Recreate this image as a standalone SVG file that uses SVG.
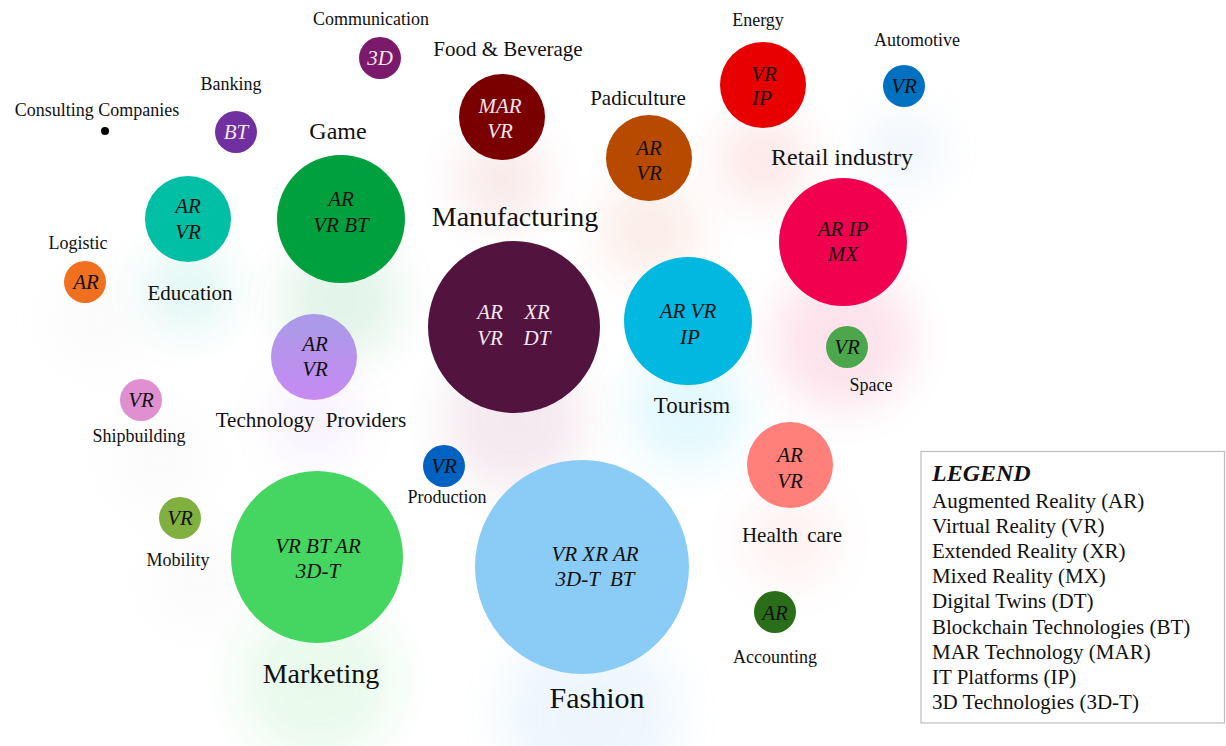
<svg xmlns="http://www.w3.org/2000/svg" width="1226" height="746" viewBox="0 0 1226 746">
<style>
.lbl{font-family:"Liberation Serif","Times New Roman",serif;fill:#111;text-anchor:middle}
.in{font-family:"Liberation Serif","Times New Roman",serif;font-style:italic;font-size:21px;fill:#111;text-anchor:middle}
.w{fill:#f4e6ee}
.s{font-size:18px}
.m{font-size:21px}
.l{font-size:24px}
.xl{font-size:28px}
.halo{opacity:0.11;filter:url(#blur)}
.leg{font-family:"Liberation Serif","Times New Roman",serif;font-size:21px;fill:#111}
</style>
<defs>
<filter id="blur" x="-100%" y="-100%" width="300%" height="300%"><feGaussianBlur stdDeviation="22"/></filter>
<linearGradient id="tp" x1="0" y1="0" x2="0" y2="1"><stop offset="0" stop-color="#A99BE8"/><stop offset="1" stop-color="#C78AF2"/></linearGradient>
</defs>
<rect width="1226" height="746" fill="#fff"/>
<g id="halos">
<circle class="halo" cx="341" cy="300" r="60" fill="#00A040"/>
<circle class="halo" cx="514" cy="420" r="70" fill="#A04070"/>
<circle class="halo" cx="688" cy="410" r="60" fill="#00C8F0"/>
<circle class="halo" cx="317" cy="680" r="80" fill="#44D660"/>
<circle class="halo" cx="590" cy="715" r="90" fill="#6AB8F0"/>
<circle class="halo" cx="843" cy="340" r="70" fill="#F0004F"/>
<circle class="halo" cx="650" cy="230" r="50" fill="#E06030"/>
<circle class="halo" cx="763" cy="160" r="45" fill="#F03030"/>
<circle class="halo" cx="502" cy="180" r="45" fill="#D04040"/>
<circle class="halo" cx="188" cy="290" r="45" fill="#00BFA5"/>
<circle class="halo" cx="314" cy="420" r="45" fill="#C08AF0"/>
<circle class="halo" cx="790" cy="540" r="45" fill="#FF8080"/>
<circle class="halo" cx="904" cy="150" r="40" fill="#80B0E0"/>
<circle class="halo" cx="100" cy="320" r="50" fill="#E0E0E0"/>
<circle class="halo" cx="160" cy="460" r="50" fill="#E0E0E0"/>
<circle class="halo" cx="200" cy="580" r="50" fill="#E0E0E0"/>
</g>
<g id="connectors"></g>
<g id="consulting"><text class="lbl s" x="97" y="116">Consulting Companies</text><circle cx="105" cy="131" r="4" fill="#000"/></g>
<g id="banking"><text class="lbl s" x="231" y="90">Banking</text><circle cx="236" cy="132" r="21" fill="#7030A0"/><text class="in w" x="236" y="139">BT</text></g>
<g id="communication"><text class="lbl s" x="371" y="25">Communication</text><circle cx="380" cy="58" r="21" fill="#7B1A6A"/><text class="in w" x="380" y="65">3D</text></g>
<g id="food"><text class="lbl m" x="508" y="56">Food &amp; Beverage</text><circle cx="502" cy="117" r="43" fill="#7A0000"/><text class="in w" x="500" y="113">MAR</text><text class="in w" x="500" y="138">VR</text></g>
<g id="game"><text class="lbl l" x="338" y="139">Game</text><circle cx="341" cy="219" r="64" fill="#00A03E"/><text class="in" x="341" y="206">AR</text><text class="in" x="341" y="232">VR BT</text></g>
<g id="education"><circle cx="188" cy="219" r="43" fill="#00BFA5"/><text class="in" x="188" y="213">AR</text><text class="in" x="188" y="239">VR</text><text class="lbl m" x="190" y="300">Education</text></g>
<g id="logistic"><text class="lbl s" x="78" y="249">Logistic</text><circle cx="85" cy="282" r="21" fill="#F07020"/><text class="in" x="86" y="289">AR</text></g>
<g id="manufacturing"><text class="lbl xl" x="515" y="226">Manufacturing</text><circle cx="514" cy="327" r="86" fill="#52133E"/><text class="in w" x="490" y="319">AR</text><text class="in w" x="537" y="319">XR</text><text class="in w" x="490" y="345">VR</text><text class="in w" x="537" y="345">DT</text></g>
<g id="padiculture"><text class="lbl m" x="638" y="105">Padiculture</text><circle cx="649" cy="158" r="43" fill="#B84A00"/><text class="in" x="649" y="155">AR</text><text class="in" x="649" y="180">VR</text></g>
<g id="energy"><text class="lbl s" x="758" y="26">Energy</text><circle cx="763" cy="85" r="43" fill="#E80000"/><text class="in" x="764" y="81">VR</text><text class="in" x="762" y="105">IP</text></g>
<g id="automotive"><text class="lbl s" x="917" y="46">Automotive</text><circle cx="904" cy="86" r="21" fill="#0070C0"/><text class="in" x="904" y="93">VR</text></g>
<g id="retail"><text class="lbl l" x="842" y="165">Retail industry</text><circle cx="843" cy="242" r="64" fill="#F0004F"/><text class="in" x="843" y="236">AR IP</text><text class="in" x="843" y="261">MX</text></g>
<g id="tourism"><circle cx="688" cy="321" r="64" fill="#00B8E0"/><text class="in" x="688" y="318">AR VR</text><text class="in" x="690" y="344">IP</text><text class="lbl" style="font-size:23px" x="692" y="413">Tourism</text></g>
<g id="space"><circle cx="847" cy="347" r="21" fill="#4CA64C"/><text class="in" x="847" y="354">VR</text><text class="lbl s" x="871" y="391">Space</text></g>
<g id="techproviders"><circle cx="314" cy="357" r="43" fill="url(#tp)"/><text class="in" x="315" y="351">AR</text><text class="in" x="315" y="376">VR</text><text class="lbl m" x="311" y="427" word-spacing="6">Technology Providers</text></g>
<g id="shipbuilding"><circle cx="141" cy="400" r="21" fill="#E08FD0"/><text class="in" x="141" y="407">VR</text><text class="lbl s" x="139" y="442">Shipbuilding</text></g>
<g id="production"><circle cx="444" cy="466" r="21" fill="#0062C0"/><text class="in" x="444" y="473">VR</text><text class="lbl s" x="447" y="503">Production</text></g>
<g id="mobility"><circle cx="180" cy="518" r="21" fill="#80B040"/><text class="in" x="180" y="525">VR</text><text class="lbl s" x="178" y="566">Mobility</text></g>
<g id="marketing"><circle cx="317" cy="557" r="86" fill="#44D660"/><text class="in" x="318" y="553">VR BT AR</text><text class="in" x="318" y="578">3D-T</text><text class="lbl xl" x="321" y="683">Marketing</text></g>
<g id="fashion"><circle cx="582" cy="567" r="107" fill="#8ACCF5"/><text class="in" x="595" y="561">VR XR AR</text><text class="in" x="595" y="586" xml:space="preserve">3D-T  BT</text><text class="lbl" style="font-size:30px" x="597" y="708">Fashion</text></g>
<g id="healthcare"><circle cx="790" cy="465" r="43" fill="#FF7F7A"/><text class="in" x="790" y="462">AR</text><text class="in" x="790" y="488">VR</text><text class="lbl m" x="792" y="542" word-spacing="4">Health care</text></g>
<g id="accounting"><circle cx="775" cy="612" r="21" fill="#2A6E1A"/><text class="in" x="775" y="620">AR</text><text class="lbl s" x="775" y="663">Accounting</text></g>
<g id="legend">
<rect x="921" y="451.5" width="303.5" height="271.5" fill="#fff" stroke="#bdbdbd" stroke-width="1.2"/>
<text class="leg" x="932" y="481" style="font-weight:bold;font-style:italic;font-size:24px">LEGEND</text>
<text class="leg" x="932" y="508">Augmented Reality (AR)</text>
<text class="leg" x="932" y="533">Virtual Reality (VR)</text>
<text class="leg" x="932" y="558">Extended Reality (XR)</text>
<text class="leg" x="932" y="583">Mixed Reality (MX)</text>
<text class="leg" x="932" y="608">Digital Twins (DT)</text>
<text class="leg" x="932" y="634">Blockchain Technologies (BT)</text>
<text class="leg" x="932" y="659">MAR Technology (MAR)</text>
<text class="leg" x="932" y="684">IT Platforms (IP)</text>
<text class="leg" x="932" y="709">3D Technologies (3D-T)</text>
</g>
</svg>
